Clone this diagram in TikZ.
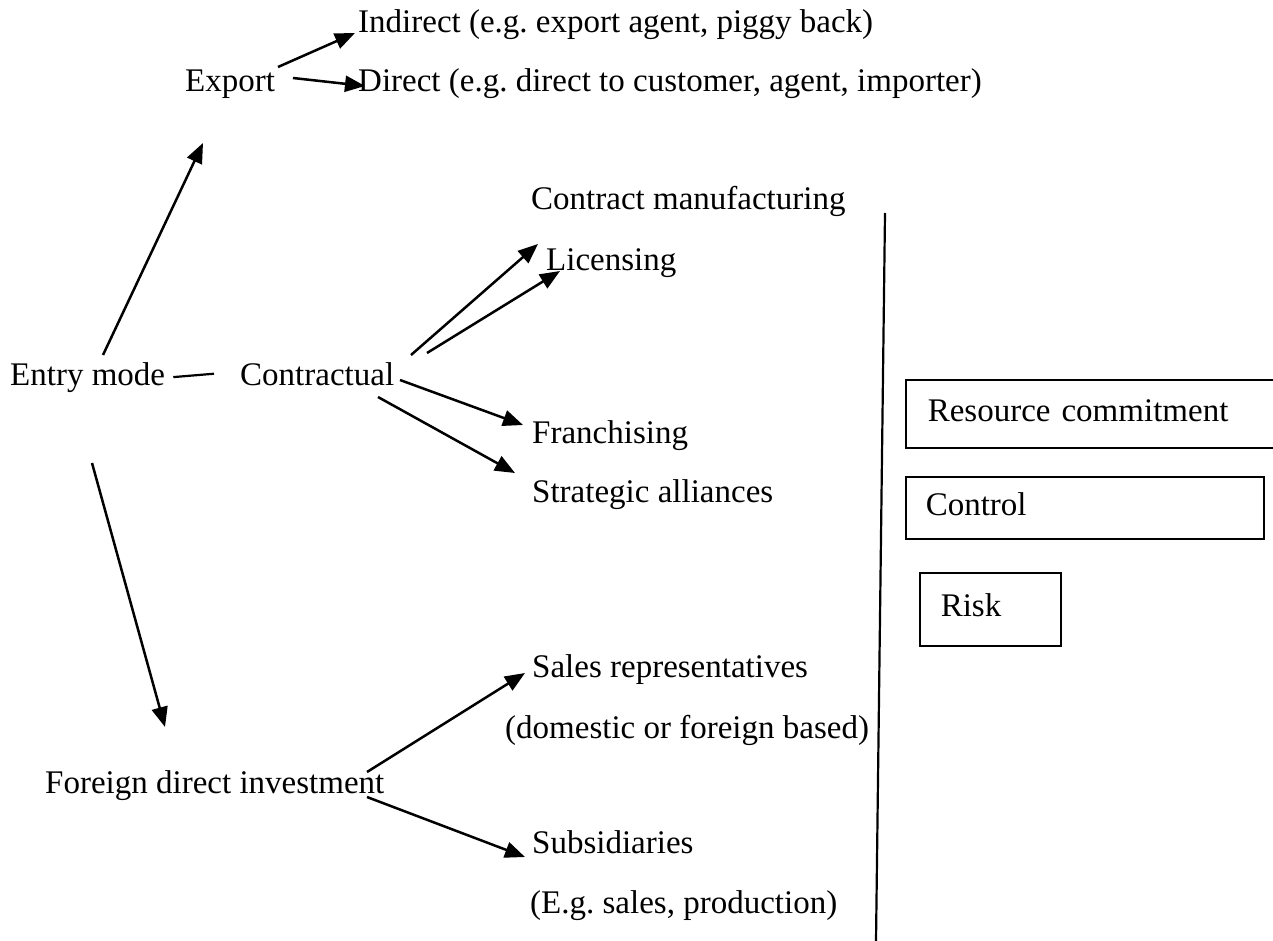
\documentclass[tikz,border=0pt]{standalone}
\usepackage{fontspec}
\setmainfont{Liberation Serif}
\usetikzlibrary{positioning,calc,arrows.meta}
\frenchspacing
\begin{document}
\begin{tikzpicture}[x=1pt,y=-1pt,
   lbl/.style={anchor=base west,inner sep=0pt,font=\fontsize{33}{40}\selectfont},
   mbox/.style={draw,line width=1.6pt,anchor=north west,align=left,inner xsep=#1,inner ysep=0pt,
     text height=22pt,text depth=7pt,font=\fontsize{33}{40}\selectfont},
   mbox/.default=21pt,
   arr/.style={-{Triangle[length=20pt,width=16pt]},line width=2.5pt}]
 \useasboundingbox (0,0) rectangle (1273,941);
 \node[lbl] (entry) at (10,385) {Entry mode};
 \node[lbl] (contr) at (240,385) {Contractual};
 \node[lbl] (export) at (185,92) {Export};
 \node[lbl] (indirect) at (358,33) {Indirect (e.g. export agent, piggy back)};
 \node[lbl] (direct) at (358,92) {Direct (e.g. direct to customer, agent, importer)};
 \node[lbl] (cm) at (531,210) {Contract manufacturing};
 \node[lbl] (lic) at (546,270) {Licensing};
 \node[lbl] (fr) at (532,443) {Franchising};
 \node[lbl] (sa) at (532,502) {Strategic alliances};
 \node[lbl] (fdi) at (45,793) {Foreign direct investment};
 \node[lbl] (sales) at (532,677) {Sales representatives};
 \node[lbl] (dom) at (505,738) {(domestic or foreign based)};
 \node[lbl] (sub) at (532,853) {Subsidiaries};
 \node[lbl] (eg) at (530,913) {(E.g. sales, production)};
 \node[mbox=22pt,text width=341pt,minimum height=68pt] (res) at (905,379) {Resource commitment};
 \node[mbox=20pt,text width=318pt,minimum height=62pt] (ctrl) at (905,476) {Control};
 \node[mbox=21pt,text width=99pt,minimum height=73pt] (risk) at (919,572) {Risk};
 \draw[line width=2.2pt] (885,213) -- (876,941);
 \draw[line width=2.2pt] ([xshift=8pt]entry.east) -- ([xshift=-26pt]contr.west);
 \draw[arr] ([shift={(93,-30)}]entry.base west) -- ([shift={(18,51)}]export.base west);
 \draw[arr] ([shift={(82,78)}]entry.base west) -- ([shift={(120,-66)}]fdi.base west);
 \draw[arr] ([shift={(93,-25)}]export.base west) -- ([shift={(-3,0)}]indirect.base west);
 \draw[arr] ([shift={(108,-14)}]export.base west) -- ([shift={(7,-6)}]direct.base west);
 \draw[arr] ([shift={(171,-30)}]contr.base west) -- ([shift={(7,34)}]cm.base west);
 \draw[arr] ([shift={(187,-32)}]contr.base west) -- ([shift={(14,1)}]lic.base west);
 \draw[arr] ([shift={(160,-5)}]contr.base west) -- ([shift={(-9,-18)}]fr.base west);
 \draw[arr] ([shift={(138,12)}]contr.base west) -- ([shift={(-17,-29)}]sa.base west);
 \draw[arr] ([shift={(322,-21)}]fdi.base west) -- ([shift={(-7,-4)}]sales.base west);
 \draw[arr] ([shift={(322,4)}]fdi.base west) -- ([shift={(-7,4)}]sub.base west);
\end{tikzpicture}
\end{document}
